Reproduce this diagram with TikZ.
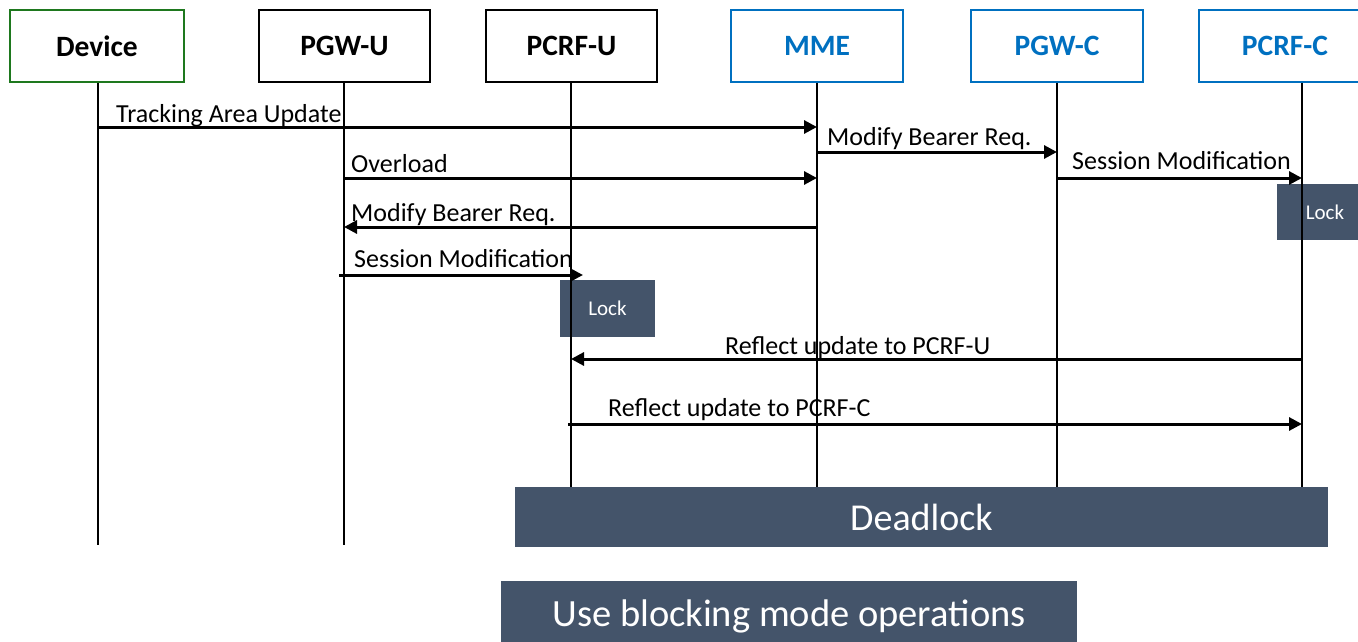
\documentclass[tikz,border=0pt]{standalone}
\usepackage{fontspec}
\setmainfont{Carlito}
\usetikzlibrary{arrows.meta}
\definecolor{slate}{HTML}{44546A}
\definecolor{msblue}{HTML}{0070C0}
\definecolor{devgreen}{RGB}{30,120,30}
\tikzset{
  head/.style={draw, line width=2pt, minimum height=72pt, inner sep=0pt,
    font=\fontsize{29.5}{34}\selectfont\bfseries},
  life/.style={line width=2pt},
  msg/.style={line width=3pt, -{Triangle[length=13pt,width=13pt]}},
  lbl/.style={anchor=base west, inner sep=0pt, font=\fontsize{26}{31}\selectfont},
  slatebox/.style={fill=slate, text=white, inner sep=0pt},
}
\begin{document}
\begin{tikzpicture}[x=1pt,y=-1pt]
\useasboundingbox (0,0) rectangle (1358,642);
\clip (0,0) rectangle (1358,642);
% header boxes
\node[head, draw=devgreen, minimum width=174pt] (dev) at (97,46) {Device};
\node[head, minimum width=171pt] (pgwu) at (344.5,46) {PGW-U};
\node[head, minimum width=171pt] (pcrfu) at (571.5,46) {PCRF-U};
\node[head, draw=msblue, text=msblue, minimum width=172pt] (mme) at (817,46) {MME};
\node[head, draw=msblue, text=msblue, minimum width=172pt] (pgwc) at (1057,46) {PGW-C};
\node[head, draw=msblue, text=msblue, minimum width=172pt] (pcrfc) at (1285,46) {PCRF-C};
% slate boxes
\node[slatebox, minimum width=96pt, minimum height=56pt, font=\fontsize{21}{25}\selectfont] (lockc) at (1325,212) {Lock};
\node[slatebox, minimum width=95pt, minimum height=57pt, font=\fontsize{21}{25}\selectfont] (locku) at (607.5,308.5) {Lock};
\node[slatebox, minimum width=813pt, minimum height=60pt, font=\fontsize{38}{44}\selectfont] (dead) at (921.5,517) {Deadlock};
\node[slatebox, minimum width=576pt, minimum height=70pt, font=\fontsize{38.5}{44}\selectfont] (block) at (789,616) {\raisebox{4pt}{Use blocking mode operations}};
% lifelines
\coordinate (devL) at (98,83);
\coordinate (pgwuL) at (344,83);
\coordinate (pcrfuL) at (571,83);
\coordinate (mmeL) at (817,83);
\coordinate (pgwcL) at (1057,83);
\coordinate (pcrfcL) at (1302,83);
\draw[life] (devL) -- (devL |- 0,545);
\draw[life] (pgwuL) -- (pgwuL |- 0,545);
\draw[life] (pcrfuL) -- (pcrfuL |- dead.north);
\draw[life] (mmeL) -- (mmeL |- dead.north);
\draw[life] (pgwcL) -- (pgwcL |- dead.north);
\draw[life] (pcrfcL) -- (pcrfcL |- dead.north);
% messages
\draw[msg] (devL |- 0,127) -- (mmeL |- 0,127);
\node[lbl] (m1) at (116,122) {Tracking Area Update};
\draw[msg] (mmeL |- 0,152) -- (pgwcL |- 0,152);
\node[lbl] (m2) at (827,145) {Modify Bearer Req.};
\draw[msg] (pgwuL |- 0,178) -- (mmeL |- 0,178);
\node[lbl] (m3) at (351,172) {Overload};
\draw[msg] (pgwcL |- 0,178) -- (pcrfcL |- 0,178);
\node[lbl] (m4) at (1072,169) {Session Modification};
\draw[msg] (mmeL |- 0,227) -- (pgwuL |- 0,227);
\node[lbl] (m5) at (351,221) {Modify Bearer Req.};
\coordinate (smstart) at (339,275);
\draw[msg] (smstart) -- ([xshift=12pt]pcrfuL |- 0,275);
\node[lbl] (m6) at (354,267) {Session Modification};
\draw[msg] (pcrfcL |- 0,359) -- (pcrfuL |- 0,359);
\node[lbl] (m7) at (725,354) {Reflect update to PCRF-U};
\coordinate (rcstart) at (568,424);
\draw[msg] (rcstart) -- (pcrfcL |- 0,424);
\node[lbl] (m8) at (608,416) {Reflect update to PCRF-C};
\end{tikzpicture}
\end{document}
